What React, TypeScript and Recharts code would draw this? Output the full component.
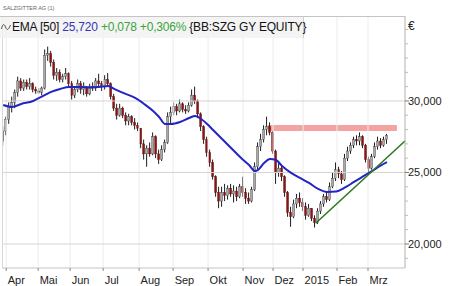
import { ComposedChart, Bar, Line, XAxis, YAxis, ReferenceLine, ReferenceArea } from 'recharts';

// month ticks on the candle index scale (about two trading days per candle)
const monthLabels = ['Apr', 'Mai', 'Jun', 'Jul', 'Aug', 'Sep', 'Okt', 'Nov', 'Dez', '2015', 'Feb', 'Mrz'];
const monthTicks = [1, 11.67, 22.33, 33.33, 45.33, 56.67, 68.33, 80, 90, 100, 111.33, 121.67];

const priceTicks = [19000, 20000, 21000, 22000, 23000, 24000, 25000, 26000, 27000, 28000, 29000, 30000, 31000, 32000, 33000, 34000, 35000];
const majorTicks = [20000, 25000, 30000];

const opens = [
  27200, 27900, 28700, 29600, 29900, 30600, 31400, 30900, 31300, 31000,
  31200, 30800, 30700, 30600, 30900, 33200, 33300, 32700, 31800, 32000,
  31500, 31700, 31900, 31200, 30400, 30800, 31200, 30800, 31000, 30500,
  31000, 30900, 31400, 31200, 31000, 31500, 31200, 30300, 29500, 29000,
  29500, 29000, 28600, 28900, 28500, 28300, 28100, 27000, 26300, 26700,
  26300, 27500, 26300, 25900, 26600, 27100, 28900, 29200, 29600, 29300,
  29800, 29400, 29300, 29700, 30400, 30000, 29100, 28200, 27300, 26400,
  25700, 24700, 23600, 23000, 23600, 23400, 23900, 23500, 23700, 23300,
  24000, 23600, 23200, 23000, 23800, 25400, 26800, 27300, 28000, 28200,
  27800, 26500, 25000, 25300, 24700, 23600, 22200, 21900, 22800, 23200,
  22900, 22600, 22000, 22500, 21800, 21500, 22300, 22800, 23300, 23100,
  24000, 24600, 25200, 24900, 24500, 26000, 26500, 26900, 27300, 27200,
  27500, 26900, 25900, 25300, 26100, 26800, 27200, 26900, 27300,
];
const highs = [
  28200, 28900, 29900, 30300, 30800, 31700, 31600, 31500, 31500, 31600,
  31300, 31000, 30900, 31000, 33600, 33800, 33500, 32900, 32300, 32200,
  31900, 32300, 32000, 31400, 31000, 31500, 31400, 31300, 31000, 31200,
  31300, 31600, 31900, 31400, 31800, 31950, 31300, 30500, 29800, 29800,
  29600, 29200, 29100, 29000, 28800, 28500, 28100, 27300, 26900, 27100,
  27800, 27600, 26600, 26900, 27300, 29200, 29600, 29900, 29800, 30100,
  29900, 29700, 29900, 30800, 31000, 30100, 29200, 28300, 27500, 26600,
  25900, 24800, 24000, 24000, 24200, 24100, 24200, 24100, 24000, 24200,
  24700, 23900, 23600, 24000, 25700, 27100, 27700, 28300, 28900, 28500,
  27900, 26600, 25700, 25500, 24800, 23700, 22600, 23100, 23500, 23600,
  23200, 22900, 22800, 22500, 22000, 22500, 23000, 23500, 23600, 24300,
  25000, 25700, 25400, 25100, 26300, 26800, 27100, 27500, 27600, 27800,
  27600, 27000, 26100, 26300, 27100, 27500, 27400, 27500, 27700,
];
const lows = [
  26900, 27600, 28400, 29200, 29500, 30300, 30700, 30700, 30800, 30800,
  30600, 30500, 30500, 30400, 30800, 32800, 32400, 31500, 31400, 31300,
  31300, 31500, 31000, 30100, 30200, 30600, 30500, 30400, 30300, 30400,
  30700, 30700, 31000, 30700, 30800, 31000, 30100, 29300, 28700, 28900,
  28800, 28300, 28300, 28300, 28000, 27900, 26700, 25900, 25400, 26100,
  26200, 26000, 25600, 25800, 26400, 27000, 28400, 29000, 29000, 29200,
  29200, 29100, 29200, 29600, 29800, 28800, 27900, 27000, 26100, 25400,
  24500, 23300, 22500, 22600, 23000, 23100, 23300, 22900, 23000, 23200,
  23300, 22800, 22800, 22900, 23700, 25200, 26500, 27100, 27600, 27600,
  26300, 24200, 24700, 24400, 23300, 21900, 21200, 21800, 22500, 22600,
  22300, 21700, 21900, 21600, 21150, 21400, 22100, 22600, 22900, 23000,
  23900, 24400, 24600, 24200, 24400, 25800, 26300, 26700, 26900, 26900,
  26700, 25700, 24950, 25200, 26000, 26600, 26700, 26800, 27000,
];
const closes = [
  27900, 28700, 29600, 29900, 30600, 31400, 30900, 31300, 31000, 31200,
  30800, 30700, 30600, 30900, 33200, 33300, 32700, 31800, 32000, 31500,
  31700, 31900, 31200, 30400, 30800, 31200, 30800, 31000, 30500, 31000,
  30900, 31400, 31200, 31000, 31500, 31200, 30300, 29500, 29000, 29500,
  29000, 28600, 28900, 28500, 28300, 28100, 27000, 26300, 26700, 26300,
  27500, 26300, 25900, 26600, 27100, 28900, 29200, 29600, 29300, 29800,
  29400, 29300, 29700, 30400, 30000, 29100, 28200, 27300, 26400, 25700,
  24700, 23600, 23000, 23600, 23400, 23900, 23500, 23700, 23300, 24000,
  23600, 23200, 23000, 23800, 25400, 26800, 27300, 28000, 28200, 27800,
  26500, 25000, 25300, 24700, 23600, 22200, 21900, 22800, 23200, 22900,
  22600, 22000, 22500, 21800, 21500, 22300, 22800, 23300, 23100, 24000,
  24600, 25200, 24900, 24500, 26000, 26500, 26900, 27300, 27200, 27500,
  26900, 25900, 25300, 26100, 26800, 27200, 26900, 27300, 27600,
];

// EMA [50]
const emaIndex = [0, 3, 6, 10, 12, 14, 16, 19, 22, 26, 29, 32, 35, 37, 40, 44, 47, 50, 52, 54, 56, 59, 62, 64, 66, 68, 70, 73, 76, 79, 82, 84, 85, 87, 89, 91, 93, 96, 99, 102, 105, 108, 111, 114, 117, 120, 123, 126, 128];
const emaValues = [29720, 29580, 29790, 30000, 30210, 30420, 30630, 30840, 30980, 30980, 30940, 30980, 31050, 30840, 30560, 30210, 29790, 29300, 28880, 28390, 28390, 28530, 28810, 28950, 28740, 28390, 27970, 27340, 26710, 26080, 25520, 25100, 25175, 25660, 25940, 25870, 25450, 24970, 24620, 24270, 23850, 23640, 23670, 23950, 24340, 24720, 25100, 25490, 25720];

const trendStart = { i: 104.2, v: 21450 };
const trendEnd = { i: 134, v: 27200 };
const resistance = { from: 88.3, to: 131.3, low: 27900, high: 28320 };

const candles = opens.map((o, i) => ({
  i,
  open: o,
  high: highs[i],
  low: lows[i],
  close: closes[i],
  range: [lows[i], highs[i]],
}));
const emaData = emaIndex.map((i, k) => ({ i, ema: emaValues[k] }));

const FONT = '"Liberation Sans", Arial, sans-serif';

function Candle(props: any) {
  const { x, y, width, height, payload } = props;
  if (x == null || !payload) return null;
  const top = Math.min(y, y + height);
  const h = Math.abs(height);
  const { open, close, high, low } = payload;
  const span = high - low || 1;
  const py = (v: number) => top + ((high - v) / span) * h;
  const cx = x + width / 2;
  const up = close >= open;
  const bTop = py(Math.max(open, close));
  const bBot = py(Math.min(open, close));
  return (
    <g>
      <line x1={cx} x2={cx} y1={top} y2={top + h} stroke="#1e1e1e" strokeWidth={1} />
      <rect
        x={x}
        y={bTop}
        width={width}
        height={Math.max(1, bBot - bTop)}
        fill={up ? '#a9a9a9' : '#8a1414'}
        stroke={up ? '#3a3a3a' : '#5e0a0a'}
        strokeWidth={0.4}
      />
    </g>
  );
}

function MonthTick(props: any) {
  const { x, y, payload } = props;
  const idx = monthTicks.indexOf(payload.value);
  return (
    <g>
      <line x1={x} x2={x} y1={y} y2={y + 3} stroke="#888" />
      <text x={x + 1.5} y={y + 16} fontSize={11} fontFamily={FONT} fill="#222">
        {monthLabels[idx]}
      </text>
    </g>
  );
}

function PriceTick(props: any) {
  const { x, y, payload } = props;
  const v = payload.value;
  const major = majorTicks.includes(v);
  return (
    <g>
      <line x1={x} x2={x + (major ? 4 : 3)} y1={y} y2={y} stroke={major ? '#777' : '#bbb'} />
      {major && (
        <text x={x + 3} y={y + 4} fontSize={11} fontFamily={FONT} fill="#222">
          {v.toLocaleString('en-US')}
        </text>
      )}
    </g>
  );
}

function Wave() {
  return (
    <svg width={10} height={10} style={{ verticalAlign: '-1px', marginRight: 1 }}>
      <path d="M0.5,7 C1.5,2 3,1 4.5,5 C6,9 7.5,8 9.5,3" fill="none" stroke="#555" strokeWidth={1} />
    </svg>
  );
}

export default function App() {
  return (
    <div style={{ position: 'absolute', left: 0, top: 0, width: 450, height: 286, background: '#fff', fontFamily: FONT }}>
      <div style={{ position: 'absolute', left: 3, top: 5, fontSize: 5.5, color: '#666' }}>SALZGITTER AG (1)</div>
      <ComposedChart width={450} height={286} data={candles} margin={{ top: 16, right: 0, bottom: 0, left: 2 }}>
        <XAxis
          dataKey="i"
          type="number"
          domain={[-0.4, 134]}
          ticks={monthTicks}
          interval={0}
          tick={<MonthTick />}
          tickLine={false}
          tickSize={0}
          tickMargin={0}
          axisLine={{ stroke: '#c4c4c4' }}
          height={18}
          allowDataOverflow
        />
        <YAxis
          orientation="right"
          type="number"
          domain={[18320, 35940]}
          ticks={priceTicks}
          interval={0}
          tick={<PriceTick />}
          tickLine={false}
          tickSize={0}
          tickMargin={0}
          axisLine={{ stroke: '#b0b0b0' }}
          width={45}
          allowDataOverflow
        />
        {monthTicks.map((t) => (
          <ReferenceLine key={'v' + t} x={t} stroke="#ececec" />
        ))}
        {majorTicks.map((v) => (
          <ReferenceLine key={'h' + v} y={v} stroke="#d4d4d4" />
        ))}
        <ReferenceArea
          x1={resistance.from}
          x2={resistance.to}
          y1={resistance.low}
          y2={resistance.high}
          fill="#f4a3a3"
          fillOpacity={1}
          stroke="none"
        />
        <Bar dataKey="range" barSize={2} shape={<Candle />} isAnimationActive={false} />
        <Line
          data={emaData}
          dataKey="ema"
          type="monotone"
          stroke="#2424c6"
          strokeWidth={2}
          dot={false}
          isAnimationActive={false}
        />
        <ReferenceLine
          segment={[
            { x: trendStart.i, y: trendStart.v },
            { x: trendEnd.i, y: trendEnd.v },
          ]}
          stroke="#2d7a20"
          strokeWidth={1.6}
        />
      </ComposedChart>
      <div
        style={{
          position: 'absolute',
          left: 2,
          top: 16,
          width: 402,
          height: 251,
          borderTop: '1px solid #c4c4c4',
          borderLeft: '1px solid #d8d8d8',
          pointerEvents: 'none',
        }}
      />
      <div
        style={{
          position: 'absolute',
          left: 0,
          top: 16,
          width: 302,
          height: 21,
          background: 'rgba(242,242,242,0.85)',
          borderRight: '1px solid #d0d0d0',
          borderTop: '1px solid #c4c4c4',
          fontSize: 12,
          letterSpacing: -0.2,
          lineHeight: '21px',
          whiteSpace: 'nowrap',
          color: '#111',
          paddingLeft: 1,
        }}
      >
        <Wave />
        EMA [50] <span style={{ color: '#3535b5' }}>25,720</span>{' '}
        <span style={{ color: '#3aa53a' }}>+0,078 +0,306%</span> {'{BB:SZG GY EQUITY}'}
      </div>
      <div style={{ position: 'absolute', left: 408, top: 19, fontSize: 12, color: '#222' }}>€</div>
    </div>
  );
}
